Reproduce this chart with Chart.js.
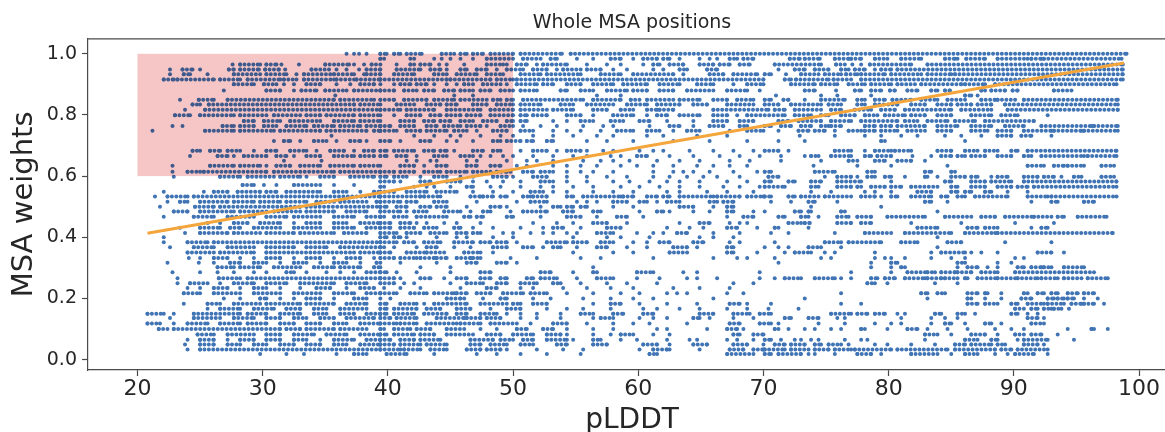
<!DOCTYPE html>
<html>
<head>
<meta charset="utf-8">
<script src="https://cdn.jsdelivr.net/npm/chart.js@4.4.1/dist/chart.umd.min.js"></script>
<style>
  html, body { margin: 0; padding: 0; background: #fff; overflow: hidden; width: 1165px; height: 432px; }
  #c { display: block; width: 1165px; height: 432px; }
</style>
</head>
<body>
<canvas id="c" width="1165" height="432"></canvas>
<script>
// Axis ticks and limits
const xTicks = [20, 30, 40, 50, 60, 70, 80, 90, 100];
const yTicks = [0.0, 0.2, 0.4, 0.6, 0.8, 1.0];
const xLimits = [16.05, 102.95];   // full axis span (right part runs past the page edge)
const yLimits = [-0.034, 1.049];

// Highlighted region (pLDDT 20-50, weight 0.6-1.0)
const boxX = [20, 50];
const boxY = [0.6, 1.0];

// Linear fit end points
const fitX = [20.8, 98.8];
const fitY = [0.413, 0.970];

// Positions per weight level: a number is a single position,
// a pair [from, to] is a dense run of positions at that weight.
const r1000 = [36.7, 37.3, 37.7, 38.3, [39.4,39.9], [40.5,41.0], [41.5,42.7], [44.3,45.3], [45.8,46.3], [46.8,47.6], [48.2,50.0], [50.6,53.9], [54.6,99.0]];
const r0984 = [[39.4,39.7], 41.8, 42.1, 43.7, 44.3, 45.0, 45.8, 46.8, [47.9,50.0], [50.8,52.2], [53.0,53.5], 55.1, 56.4, [57.8,58.6], 59.6, [60.4,61.5], [62.0,62.5], 63.3, 64.9, 65.7, 66.3, [67.3,67.9], [68.4,69.2], [72.1,72.9], [73.3,74.5], [75.7,76.8], [77.0,77.8], [78.9,79.9], [81.0,82.6], [84.5,85.3], 85.5, [86.2,87.7], [88.7,91.1], [91.4,92.2], [92.4,98.6]];
const r0965 = [27.6, [28.2,29.8], [30.3,31.1], 31.5, 32.9, [35.0,36.9], 37.3, 38.1, [38.7,39.4], 40.7, [41.8,42.1], [42.6,43.4], 44.1, 44.7, 46.1, [47.9,49.2], 49.5, [50.3,51.1], 51.9, [52.4,54.3], 55.9, 57.5, 58.6, 60.4, [61.2,61.7], [62.5,63.6], [64.9,66.0], [66.5,67.3], [68.1,68.9], [70.9,74.6], [75.8,76.5], 77.1, 77.8, [78.5,81.8], [83.1,98.7]];
const r0949 = [22.6, [23.6,24.4], 25.0, [27.3,27.7], [28.2,29.7], [30.2,31.3], 31.8, [33.9,35.3], 35.9, 36.7, 37.7, [38.3,39.4], [40.7,42.6], [43.4,44.2], 44.7, [45.8,46.3], [47.1,47.9], 48.7, [49.5,50.8], [51.6,52.7], 53.5, [54.0,55.4], [55.9,57.0], 58.0, 59.1, 61.2, 62.0, [63.3,63.9], [65.5,66.3], 71.2, [72.5,73.3], [74.1,75.2], [76.2,76.8], [77.3,78.1], 78.9, [79.4,80.2], [80.7,98.7]];
const r0933 = [22.6, [23.7,24.2], 25.6, [27.7,29.8], [30.3,31.9], 32.7, [33.3,35.4], [35.7,37.3], 38.1, [38.3,39.4], [40.5,42.1], [43.7,44.7], [45.5,47.1], [47.9,49.2], [50.6,52.2], [52.7,55.4], [57.0,58.6], [59.6,62.8], 63.6, [65.7,66.8], [67.6,69.5], [70.1,70.6], 71.8, [73.0,74.4], [74.9,76.2], [76.6,77.5], [77.8,79.7], [80.2,82.6], [83.1,85.0], [85.3,98.7]];
const r0916 = [[22.1,22.9], [23.2,26.1], [26.6,28.2], [28.8,31.4], [31.7,32.7], [33.3,35.7], [35.9,37.3], [37.5,39.4], [39.4,44.7], [45.0,48.2], [48.7,50.0], [50.3,70.0], [71.7,72.2], [72.6,75.2], [75.6,77.0], [77.8,98.7]];
const r0900 = [[27.7,29.3], [30.1,31.1], 31.7, 32.5, [33.5,34.6], 35.9, 37.0, [37.8,38.9], 39.4, 40.5, [41.0,41.8], [42.3,43.1], 43.7, 44.7, 45.5, [46.1,46.8], [47.6,49.0], 49.5, [50.3,51.9], [52.4,53.2], [54.3,55.4], [56.4,58.0], [58.8,60.7], [61.7,63.3], [64.7,66.0], 67.6, [68.7,70.0], [72.2,74.1], [74.6,75.9], [76.8,78.1], [78.6,80.2], [80.7,82.1], [82.6,85.8], [86.1,87.7], [88.5,98.2]];
const r0880 = [26.9, [30.3,31.4], 32.5, [33.1,34.3], [35.0,36.7], [37.3,39.4], [39.4,40.5], [41.3,42.3], [42.9,43.7], [44.5,45.3], [45.8,46.8], [47.4,48.2], [49.0,50.0], [50.6,51.9], [53.8,54.3], [55.4,56.4], [57.5,59.1], [59.6,60.7], [61.7,62.8], [63.9,66.0], [67.1,68.7], 69.7, [73.3,74.1], 75.8, [77.3,77.8], [78.6,79.4], [80.1,80.5], [81.5,82.3], [83.4,83.9], [84.5,84.9], [87.4,87.7], [88.2,89.3], [89.9,90.3], [93.2,94.6]];
const r0864 = [35.8, 45.3, 46.8, 56.7, 58.6, 71.0, 74.6, 75.9, 78.6, [86.1,86.6], 87.1];
const r0850 = [23.4, [24.9,26.1], [27.2,35.7], [36.2,38.9], [39.4,40.5], [41.3,43.1], [43.7,45.3], [45.8,47.9], [48.4,49.0], [49.5,50.0], [50.8,55.6], [56.4,58.6], [59.4,60.1], [60.7,62.8], [63.3,64.9], [66.0,67.1], [67.9,69.2], [70.1,70.6], [71.6,72.0], 73.3, [74.6,76.5], [77.5,78.1], [78.9,79.7], [80.3,81.8], [82.6,83.9], [84.7,86.1], [87.4,88.5], [88.7,90.1], [90.8,98.3]];
const r0834 = [[24.4,25.0], [25.7,37.3], [37.8,39.4], [40.7,42.1], [43.1,44.2], [44.7,45.5], [46.8,47.9], [48.7,50.0], [50.6,52.2], [53.8,54.8], [55.9,58.0], [59.1,60.7], [61.5,63.3], [64.4,65.5], [67.1,69.2], [70.1,71.2], [72.2,74.6], [75.2,76.2], [77.5,78.1], [78.9,80.7], [81.8,82.9], [83.9,85.0], [85.5,86.6], [87.1,88.2], [89.3,98.3]];
const r0817 = [23.8, [25.4,39.4], [39.4,41.0], [41.5,43.7], [44.7,47.4], [48.2,50.0], [50.6,52.7], [53.2,54.8], [56.4,57.5], [58.6,59.6], [60.7,61.5], [61.7,62.8], [66.0,70.4], [70.9,71.7], [72.5,74.6], [75.4,76.2], [77.3,78.6], [79.4,80.5], [81.3,85.0], [85.8,88.2], [89.5,98.3]];
const r0799 = [[23.0,24.2], [25.0,27.7], [28.2,30.3], [30.9,33.0], [33.5,34.6], [35.1,37.3], [37.8,39.4], 40.5, [41.5,42.6], [43.4,44.2], [44.7,45.8], [46.3,47.4], [48.2,50.0], [50.6,51.1], [51.6,52.7], [54.3,55.4], 56.4, [58.0,59.6], 60.7, [61.5,62.3], [63.3,64.9], [66.0,67.1], 67.9, [68.7,71.7], [72.5,73.8], [74.6,75.2], [76.2,77.3], [78.1,79.1], [79.7,81.3], [81.8,82.9], [83.9,85.0], [86.6,88.2], [89.0,90.3], 92.7];
const r0780 = [[28.5,29.3], [30.1,31.4], [32.2,34.6], [35.7,37.3], [37.8,39.4], [41.0,42.1], [42.9,43.7], [44.2,45.0], [45.8,46.8], [47.6,48.7], [49.5,50.0], [50.6,51.1], 53.2, 54.3, [55.4,56.4], [57.8,58.8], [60.1,60.9], 62.3, 64.4, [66.0,67.1], [68.1,69.2], [71.2,72.0], [72.8,74.6], [75.4,77.0], [77.8,80.7], [81.3,82.3], [83.1,84.7], [85.3,86.9], [87.7,91.6]];
const r0764 = [22.8, 23.6, [26.8,27.7], [28.2,29.3], [30.1,31.1], [31.9,33.5], [34.1,35.7], [36.2,37.8], [38.3,39.4], [39.4,40.2], [41.0,42.1], [43.1,43.9], [44.5,45.8], [46.3,47.4], 47.9, [49.0,50.0], 50.8, 52.2, 53.5, 55.6, 57.2, 58.0, 60.9, [62.5,63.3], 64.4, [65.7,66.8], [68.1,68.7], [70.1,70.6], [71.4,72.2], [73.0,73.8], [74.6,75.2], [75.4,76.2], [78.1,78.9], [79.4,80.2], [80.7,82.9], [83.9,85.5], [86.6,88.2], [89.3,90.8], [92.2,96.2], [96.4,98.3]];
const r0748 = [21.2, [25.4,27.7], [28.2,30.9], [31.4,34.6], [35.1,38.3], [38.9,39.4], [39.4,40.7], [41.5,42.6], [43.1,44.7], [45.3,46.3], 47.1, [48.4,49.5], [50.6,51.6], 53.2, 54.3, 55.4, 57.0, [58.3,59.6], [60.7,61.7], 62.8, [63.9,64.9], 67.3, [68.7,70.0], 71.2, [72.8,73.6], [74.1,74.9], 75.7, [76.8,77.8], [78.1,78.9], [79.4,80.7], [81.5,82.9], [83.9,85.0], [86.6,87.9], [88.7,89.8], [90.8,93.0], [93.2,95.4], [95.6,98.3]];
const r0732 = [35.5, 42.1, 43.7, 45.0, 45.8, 47.4, 49.0, 50.0, 51.6, 53.2, 54.8, 56.7, 58.0, 60.7, 62.0, 64.7, 67.1, 72.9, 75.7, 78.1, 79.4, 81.0, 82.3, 84.5, 85.8, 87.4, [88.7,89.8], [90.6,91.4], 93.0];
const r0715 = [30.9, [31.7,32.2], 33.0, [34.1,35.1], 35.9, [37.0,37.8], 38.3, [39.4,40.2], 41.0, [42.6,43.4], 44.7, 45.5, 46.8, [48.4,49.0], [49.5,50.6], [51.1,51.6], [52.7,53.2], 55.9, 57.5, 59.6, 62.8, 65.7, 68.7, 71.2, 73.3, [79.4,79.7], 86.1];
const r0683 = [[24.4,25.0], [25.8,26.6], [27.2,28.2], 29.3, [30.3,31.1], [32.2,33.5], 34.3, [35.4,36.5], 37.3, [38.1,38.9], [39.4,39.9], [40.5,42.1], [42.9,43.7], [44.2,44.7], 45.3, [46.8,47.6], [48.4,49.0], 50.6, [51.6,52.7], 53.5, [54.3,55.4], 55.9, 57.2, 58.0, 60.1, 61.2, 62.0, 64.1, 66.0, 67.6, 69.2, [70.1,71.2], 72.0, [75.7,77.0], 78.1, [78.9,80.2], [80.5,81.8], [83.9,85.0], [86.1,87.1], [87.7,88.7], [89.8,90.3], [91.1,98.2]];
const r0666 = [24.2, [26.4,27.2], 27.7, [28.5,30.3], [31.1,31.9], 32.5, [33.5,34.6], [35.7,37.3], [37.8,38.9], [39.4,39.9], [40.7,41.5], 42.3, [43.7,44.7], [45.8,46.8], 47.4, 48.2, 49.2, 50.0, 51.6, 53.2, 54.8, 55.9, 57.8, 58.6, [59.9,60.7], 62.5, 64.4, 66.5, 68.1, 69.7, 71.4, 73.3, [73.8,74.4], [75.4,77.0], [78.1,78.6], [79.1,80.2], 81.9, 83.4, [84.2,85.0], [85.5,86.1], [86.6,87.7], [88.7,89.8], [90.8,91.4], [92.2,95.6], [95.9,98.2]];
const r0650 = [31.7, 34.7, 41.5, 42.3, 43.4, 43.9, 46.3, 47.1, 49.5, 51.1, 51.9, 53.2, 55.6, 57.0, 58.0, 59.3, 61.5, 63.3, 64.9, 67.3, 68.9, 71.4, 74.6, [76.8,77.5], [78.9,79.7], [80.7,81.8], 82.9];
const r0634 = [22.8, [25.8,27.7], [28.2,29.8], 30.3, [31.1,32.2], [33.0,34.6], [35.4,37.3], [37.8,39.4], [41.0,42.1], 42.9, [43.9,44.7], [46.3,47.1], [48.2,49.0], 50.3, 51.1, 53.2, 54.3, 55.4, 56.7, 58.6, 59.9, 61.2, 62.8, 64.7, 66.0, 67.3, 68.7, 74.0, 77.5, 80.2, 84.7, [91.1,92.4], [93.2,94.0], [94.3,95.6], [97.0,98.0]];
const r0614 = [22.8, [24.0,25.0], [25.3,30.3], [30.9,35.7], [36.2,39.4], [39.4,40.5], [41.0,42.1], [42.9,44.2], [44.7,46.3], [46.8,48.2], [48.7,49.5], 49.8, [50.8,51.6], [52.2,53.2], 54.3, 55.4, 56.4, 58.0, 61.2, 62.8, 63.6, 64.4, 65.7, 67.6, 69.5, [70.1,70.6], [74.1,75.7], [78.3,78.9], [82.9,83.4], [85.0,85.3]];
const r0598 = [22.9, [26.6,28.2], [28.8,30.9], [31.4,33.0], 33.5, [34.6,35.7], [37.0,38.9], [39.4,39.9], [40.5,41.5], 42.6, [43.7,44.7], 45.8, 46.8, [48.4,49.5], 50.0, [51.6,52.7], 54.3, 55.9, 57.5, 59.1, 61.2, 62.5, 63.9, 65.2, 66.3, 68.1, [70.4,71.2], 74.9, [75.9,77.0], 77.5, [78.3,78.9], [79.7,80.2], 81.3, [82.9,83.1], 83.9, [85.0,86.1], [86.6,87.1], 88.2, [88.7,89.5], [90.8,91.9], [92.4,93.2], 93.8, [94.8,95.4], [97.0,98.0]];
const r0582 = [[39.4,40.5], 41.0, [42.6,43.4], [44.7,45.8], 46.8, 47.9, 49.2, 50.6, [52.2,53.2], 54.3, 55.9, 58.0, 59.3, 60.9, 62.3, 63.3, 64.9, 67.1, 68.7, [70.1,70.6], [72.0,72.5], [73.8,74.6], [75.9,77.8], 80.2, [84.5,85.0], [86.6,87.7], [88.2,89.8], [90.8,98.2]];
const r0571 = [[28.4,29.3], 30.1, 31.1, [32.5,34.6], 35.7, 37.3];
const r0565 = [[39.4,39.7], 42.1, 43.1, 43.7, 45.0, [46.3,46.8], 48.2, 49.0, 50.6, 52.2, 53.2, 54.8, 56.4, 58.6, 60.1, 61.7, 63.3, 64.9, 66.8, 68.1, 69.7, [70.1,71.7], [73.8,74.4], [75.9,77.0], [77.5,77.8], [78.6,79.7], [80.2,81.0], [81.8,83.9], [85.0,85.5], [86.6,87.7], [88.7,89.8], [90.3,91.1], [91.6,98.2]];
const r0549 = [22.1, 25.3, [26.1,27.2], [28.0,29.8], [30.3,31.1], [31.9,34.6], [35.7,36.7], 37.8, [38.9,39.4], [39.4,40.5], [41.5,43.1], [43.9,45.5], 46.8, 48.4, 50.0, [51.4,52.4], 53.2, 54.3, 56.4, 58.0, 59.6, 62.3, 63.3, 65.5, 67.1, 69.2, 73.8, 75.4, 78.1, 78.9, 80.2, [82.3,83.4], [85.0,85.5], [86.1,86.6], [87.7,88.2], 89.5, 91.1];
const r0533 = [21.4, [22.4,24.0], [24.5,39.4], [39.4,42.6], [42.9,44.2], [46.6,47.4], [47.6,48.4], [49.0,49.5], [50.8,51.4], [51.6,52.7], [54.3,54.8], [55.6,58.6], [58.8,59.6], [60.7,61.5], [62.0,62.5], [63.3,66.0], [66.3,68.1], [68.7,70.0], [70.1,70.6], [72.0,72.5], [73.0,74.4], [74.9,77.0], [77.8,78.9], 79.4, [80.2,80.7], [81.8,83.4], [84.2,84.7], [85.5,86.1], [86.9,89.5], [91.1,92.7], [93.0,98.2]];
const r0516 = [22.4, [23.4,24.0], [25.0,27.2], [27.7,29.3], [29.8,31.4], [31.9,33.5], [34.3,35.7], [36.2,38.3], [39.1,39.4], [39.4,41.0], [41.5,42.3], [43.7,44.7], 47.1, 50.3, [51.4,52.7], 55.1, 55.9, 56.7, [58.0,59.1], [60.1,60.7], 61.5, [62.3,63.3], [65.7,66.3], [66.8,67.6], 70.6, 72.2, [73.6,74.1], 75.9, [82.9,83.4], 84.7, 91.4, [93.0,93.5], [95.6,96.4]];
const r0500 = [21.8, [24.6,26.1], [26.6,33.0], [33.5,39.4], [39.4,39.9], [40.7,41.5], [42.6,43.4], [43.9,44.7], 46.3, [48.2,49.0], 49.5, 52.2, [53.2,53.8], [54.3,54.8], [55.4,55.9], 58.0, 59.6, [63.3,64.4], 66.0, [67.1,67.6], 73.8, 79.4];
const r0484 = [[22.9,24.0], [25.0,27.7], [28.2,30.3], [30.9,33.0], [33.5,35.7], [36.7,38.3], 39.4, [39.4,41.0], 41.5, [42.1,43.1], [44.5,45.8], 46.6, [47.6,48.2], 49.8, [50.8,52.7], [54.0,54.8], [56.4,57.0], 60.1, [61.5,62.0], 62.5, 64.4, 65.7, [67.1,67.6], 69.2, 70.1, [72.5,73.0], [73.6,73.8], [76.2,76.5], 83.9];
const r0467 = [22.1, [24.5,26.1], [27.2,29.3], [30.3,31.9], [32.5,34.6], [35.7,37.3], [38.3,39.4], [39.4,39.7], [40.5,41.5], [42.3,44.7], [46.1,46.6], [47.1,47.6], [49.5,50.0], 52.2, [54.3,55.4], 56.7, [58.3,59.1], 60.4, 67.1, [68.4,69.2], [71.2,71.7], [73.0,73.6], 74.4, [75.9,76.8], [77.5,78.6], [79.9,82.9], [84.5,86.6], [87.4,88.5], [89.3,91.4], [91.6,93.0], [93.5,94.0], [95.1,97.4]];
const r0447 = [25.6, 26.6, [27.7,28.8], [29.8,31.4], 32.5, [33.5,34.6], [35.7,36.7], [37.8,39.4], [39.4,40.2], [41.0,41.8], 42.3, 43.1, 44.5, 45.5, 47.4, 51.6, 53.5, 54.8, [56.4,57.5], 59.1, 63.3, [64.9,65.7], 67.3, 68.1, 68.7, [72.0,73.0], [73.3,73.7], [75.9,77.0], [77.8,78.6], 81.8, 85.8, 90.1, 93.2];
const r0431 = [23.4, [25.0,26.6], [27.4,28.2], [29.3,31.4], [32.5,34.6], [35.7,37.3], [38.3,39.4], [39.4,40.2], [41.0,42.1], [42.9,43.9], [45.3,45.8], 46.8, 48.4, 50.6, 52.4, [53.2,54.0], 55.4, [57.5,58.6], 62.3, 64.1, 65.2, [67.1,67.9], 69.5, [70.9,71.2], 73.6, [82.3,83.9], [86.3,87.1], [87.7,88.7], 91.4, [92.2,92.7]];
const r0414 = [23.8, [25.0,27.2], [27.7,29.8], [30.3,32.5], [33.0,35.7], [36.5,38.3], [39.4,40.7], [41.5,42.6], [43.4,44.7], [45.5,46.3], [46.8,47.4], 49.2, 50.0, 51.4, 52.4, 53.2, 54.3, 55.1, [56.7,58.0], 59.9, 61.2, 62.0, [63.1,63.9], 66.0, 68.1, 70.6, 72.0, 75.7, [78.1,80.2], [81.3,85.0], [86.1,88.5], [88.7,97.9]];
const r0400 = [22.1, [39.4,39.9], [40.5,41.0], 41.5, 43.9, 45.5, 46.3, 48.4, 50.0, 54.8, 57.5, 58.6, 60.9, 64.9, 66.0, 67.6, 83.9];
const r0384 = [22.1, [24.0,25.6], [26.1,39.4], [39.4,40.7], [41.3,42.1], [42.9,44.2], [45.3,46.8], [47.4,48.2], [48.7,49.5], 50.3, [52.7,54.3], [54.8,55.9], [57.0,58.0], 59.6, 60.7, [61.7,62.5], [64.4,65.2], 67.3, 68.1, 70.9, [74.9,76.2], [76.8,79.4], [81.0,82.3], [84.7,85.8], 89.3, 93.0];
const r0367 = [22.6, [24.5,26.1], [27.2,29.3], [30.3,32.5], [33.5,35.1], [36.2,39.4], [39.4,39.7], 40.5, 42.3, [43.1,43.9], 45.3, 46.6, [48.4,49.5], [50.8,51.6], 52.4, [53.2,53.8], 55.1, [56.7,57.5], 59.1, 60.7, [62.8,63.9], 64.7, [67.1,67.6], 70.1, 71.2, 72.0, [73.6,74.6], 76.2, 83.9];
const r0350 = [[24.0,26.1], [26.6,29.3], [30.3,37.3], [37.8,39.4], [39.4,40.2], [41.5,42.9], [43.1,44.5], [46.1,47.4], 48.4, 54.8, 58.0, 59.6, [62.5,63.9], [67.1,67.6], 69.5, 71.7, [72.5,73.8], 74.9, 75.7, 78.9, 83.4, [84.2,86.1], 86.6, 87.4, 88.7, [91.9,93.0], 94.0];
const r0332 = [24.1, 25.0, [26.1,27.2], 28.2, 29.3, [30.3,31.4], 32.5, [33.5,34.6], 35.7, [36.7,37.8], 38.9, [39.4,40.5], [41.0,42.3], [42.6,43.7], [43.9,44.7], [45.5,46.6], [46.8,47.4], 49.8, 51.9, 55.4, 57.0, 61.2, 66.0, 67.9, 68.7, 70.9, 74.6, 75.4, 78.9, 79.7, 80.2, 81.3, 83.4, 85.0, 86.1, 90.1, 90.8];
const r0317 = [22.4, 24.9, 26.1, [27.4,28.2], [29.3,30.3], 31.4, [32.5,33.5], 34.6, [35.7,36.7], 37.8, [39.1,39.4], 41.0, 43.9, [46.3,47.1], [48.7,49.5], 50.3, 71.2, 78.6, [80.2,80.7], [85.5,86.1], 88.7, 89.8];
const r0302 = [[26.4,27.7], [28.2,29.8], [30.9,33.0], [34.1,35.7], [36.2,37.8], [38.9,39.4], 42.6, 45.0, 56.4, 78.6, 80.2, [81.0,81.3], 85.5, [86.3,87.1], 87.9, 88.7, [90.3,90.8], [91.4,92.2], [92.4,93.0], [94.0,95.6]];
const r0286 = [22.8, 25.0, 26.4, 27.7, 29.3, 30.3, [31.9,32.5], 33.5, 35.1, 36.2, 37.3, [38.3,39.4], [39.4,39.9], 40.7, 42.3, 45.0, [47.4,48.2], [52.2,53.0], 54.8, [56.4,56.7], [59.9,61.2], 63.6, 64.7, 69.7, 77.0, 80.2, [81.5,82.9], [83.1,83.7], [84.2,85.3], [85.5,86.6], [87.4,88.7], [90.1,96.4]];
const r0266 = [23.2, [26.5,28.2], [28.8,39.4], [39.4,40.5], 41.0, [42.6,43.4], 44.5, [45.5,46.3], [47.4,48.2], [49.0,49.5], [51.1,51.6], [52.2,53.5], 55.1, [56.7,58.0], 59.9, 61.7, 63.9, 64.7, 66.3, 69.7, 70.9, [71.7,73.0], [74.1,75.7], 76.2, 77.0, [78.6,79.1], [79.7,80.5], [81.3,82.9], [83.1,84.2], [84.5,85.5], [86.1,86.3], [87.1,88.5], [88.7,90.1], [90.3,91.9], [92.2,93.5], [94.0,95.4], [95.9,97.5]];
const r0250 = [23.2, [24.2,25.6], 26.6, [27.7,29.3], [30.3,31.9], [33.0,35.7], [36.7,38.3], [39.4,40.5], 41.3, 42.1, 45.0, [46.3,47.6], [48.7,49.5], [50.6,51.9], [53.2,53.8], 55.4, 57.5, 59.1, 61.5, 67.6, 69.2, [78.3,78.9], 79.9, 83.7, 85.5];
const r0234 = [24.0, 25.0, [26.1,27.2], 28.2, [29.3,30.3], 31.4, 33.0, [34.3,35.4], 36.7, [37.8,38.9], 39.7, 41.0, 42.6, 45.8, [47.9,48.7], 50.6, 51.6, 54.0, 55.9, 57.8, 59.6, 62.8, 64.9, 67.3];
const r0217 = [[23.7,25.0], [26.1,28.2], [29.3,31.4], [32.5,34.6], [35.7,37.3], [38.3,39.4], [39.4,40.7], [41.8,43.1], [43.7,45.3], [45.5,46.3], [47.1,48.2], [49.2,50.8], [51.4,52.7], 54.3, 56.4, 58.6, 60.1, 62.3, 63.1, 63.9, 67.1, 68.4, 76.2, [82.6,83.1], [83.9,84.5], [86.3,87.1], [87.7,87.9], 89.0, [90.8,91.1], [91.9,92.4], [93.0,93.5], [94.3,95.1], [95.6,96.4]];
const r0200 = [26.9, 28.2, [29.8,30.3], 31.4, 32.5, [33.5,34.6], 35.7, [37.3,38.3], 39.4, 40.2, [44.7,45.8], 46.1, 47.6, [49.0,49.5], 51.6, 53.0, 55.6, 57.8, 59.6, 61.2, 66.0, 73.3, 83.1, [86.3,86.6], 87.7, 89.0, [90.6,91.4], [92.7,93.2], [93.5,94.0], [94.3,94.8], 95.6, 96.7];
const r0183 = [23.7, [25.6,26.6], [27.7,29.8], [30.3,33.0], [33.5,35.7], [36.7,38.3], [39.4,39.9], [41.0,42.3], 42.9, [43.7,46.3], [47.4,49.5], [50.0,50.6], [51.6,52.7], 56.4, [57.8,58.6], 60.1, 62.3, 64.7, [67.3,68.1], 68.7, 70.6, 76.2, 77.8, [86.3,87.1], [87.7,88.7], [89.8,90.3], [91.1,92.4], [92.7,94.0], [94.6,95.4], [95.6,96.4], 97.2];
const r0166 = [25.6, [26.6,28.2], [29.3,30.9], [31.9,33.0], [34.1,35.1], [36.2,38.3], [39.4,39.9], [40.5,42.3], [43.1,44.2], [45.5,46.6], 48.2, [49.5,50.6], 52.7, 54.3, 55.6, 57.8, 60.4, 61.5, 63.3, 64.9, 67.1, 68.7, 70.4, 72.8, [90.1,90.8], [91.4,91.9], [92.4,93.0], [93.2,93.8], 94.4];
const r0150 = [[20.8,22.1], 22.9, [24.5,28.2], [28.8,30.3], [31.4,33.0], [34.1,35.1], [36.2,37.3], [38.3,39.4], [39.4,39.9], [40.5,42.1], [42.9,44.7], [45.5,46.3], [47.4,48.7], 49.5, 50.6, 51.9, 53.8, [55.4,56.4], [58.0,58.8], [60.4,61.2], [64.9,66.0], [67.6,68.9], [69.7,70.6], [75.4,77.0], [77.5,78.3], [78.9,79.7], 80.7, 81.3, [83.7,84.2], [85.5,86.1], 86.9, [89.8,90.3], 91.1, 91.9];
const r0136 = [22.6, [24.5,26.6], [27.7,29.3], [30.3,31.4], [32.5,33.5], [34.6,35.7], [36.7,38.9], [39.4,40.2], [40.7,42.3], [43.9,46.1], [46.3,47.4], [47.9,49.0], 50.6, 51.9, 53.8, 56.4, [57.0,58.0], 60.1, 61.2, 62.3, [64.4,64.9], 65.7, 67.6, 69.2, [71.7,72.2], [73.6,74.4], 75.9, 76.5, 81.0, 83.4, 84.5, 85.5, [91.1,91.9], 92.4];
const r0118 = [[20.8,21.8], 22.9, [24.0,25.6], [26.6,28.2], [28.8,30.3], [31.4,32.5], [33.5,34.6], [35.7,36.7], [37.8,39.4], [39.4,40.7], [41.0,42.3], [43.1,45.5], [45.8,47.4], [48.2,50.3], 51.4, [53.2,54.3], 55.9, 58.0, 59.6, 60.9, 63.9, [67.3,68.1], [69.7,70.6], 71.2, 74.4, 76.5, 78.9, 80.2, 81.0, 83.4, [84.5,85.0], 86.1, [87.7,88.2], 89.0, [91.4,92.4]];
const r0100 = [[21.7,22.4], [22.9,31.4], [31.9,33.0], [33.5,35.7], [36.2,38.3], [39.4,39.7], [40.5,41.8], [42.3,43.4], [44.7,46.1], 47.4, 48.7, [50.3,51.1], [52.4,53.2], 54.3, 56.4, 58.0, 61.5, 62.3, 65.5, [67.1,67.9], 68.4, [70.9,71.2], 72.0, 73.3, 74.1, 75.4, 76.2, [77.8,78.1], 79.9, [81.5,82.3], 83.1, 84.7, 86.3, 88.5, 89.8, 90.8, 94.3, [96.2,96.4], 97.5];
const r0082 = [[24.8,26.1], [27.2,29.3], [30.3,31.4], [32.5,34.1], [35.1,36.7], [37.8,39.4], [39.4,39.9], [40.5,42.1], [42.6,43.7], [44.7,46.8], [47.9,49.0], [50.0,51.6], [52.7,53.8], 54.3, 56.4, 57.8, [58.6,59.6], 61.2, 62.5, [67.6,68.1], [69.2,70.0], [82.9,83.9], 85.0, [86.6,87.7], 88.7, [90.1,90.8], [91.4,92.2], 93.5];
const r0065 = [24.0, [25.0,26.1], 27.2, [28.2,29.3], [30.3,31.4], [32.5,33.5], 34.6, [35.7,37.3], [38.3,39.4], [39.4,40.2], [41.0,42.1], [42.6,44.2], [46.6,48.4], [49.0,50.0], [50.8,51.6], [52.7,54.3], 54.8, [56.4,57.0], 58.6, 59.9, 62.3, 64.1, 64.7, 67.1, 67.9, 69.2, [70.1,70.6], 71.4, 72.5, 73.0, 73.8, 74.4, 76.5, 77.8, 78.3, 82.9, [86.1,87.1], [88.2,88.7], 90.3, [90.8,92.7], 94.8];
const r0049 = [23.8, [25.0,26.1], [27.2,28.2], [29.3,30.3], [31.4,32.5], [33.5,34.6], [35.7,36.7], [37.8,39.4], [39.4,40.5], [41.0,42.6], [43.1,44.7], [46.6,47.4], [48.2,49.5], [50.6,51.6], [53.5,54.3], [56.4,57.5], [60.4,61.5], 62.5, [64.4,65.5], [67.6,68.7], 70.0, [70.9,71.7], [72.2,73.3], [74.1,74.6], [75.2,76.2], 76.8, 78.9, 79.9, 81.8, 83.7, [85.3,86.1], [86.6,88.2], [88.7,89.3], [90.8,91.9], 92.4];
const r0033 = [24.0, [25.0,39.4], [39.4,41.0], [41.3,42.6], [43.4,44.7], [46.3,47.4], [47.9,49.0], 49.5, 51.9, 54.0, 55.6, 60.1, [61.2,62.3], 62.5, 64.9, [67.3,68.4], [69.2,70.0], [70.1,71.7], [72.2,73.6], [74.1,75.2], [75.7,77.0], [77.3,80.2], [80.7,84.7], [85.3,88.5], [89.0,89.8], [90.3,92.7]];
const r0018 = [29.8, 31.9, 33.3, 35.9, [37.3,38.3], [39.9,41.5], 43.7, 47.1, 48.7, 50.6, 52.7, 55.4, [60.9,61.5], [67.1,69.2], [70.1,70.6], [71.2,73.0], 73.6, 74.1, 75.7, [77.5,78.6], 79.4, [81.8,83.9], 85.0, [86.1,87.1], 88.5, 89.5, [90.1,91.6], 92.7];

const rowLevels = [1.000, 0.984, 0.965, 0.949, 0.933, 0.916, 0.900, 0.880, 0.864, 0.850,
  0.834, 0.817, 0.799, 0.780, 0.764, 0.748, 0.732, 0.715, 0.683, 0.666,
  0.650, 0.634, 0.614, 0.598, 0.582, 0.571, 0.565, 0.549, 0.533, 0.516,
  0.500, 0.484, 0.467, 0.447, 0.431, 0.414, 0.400, 0.384, 0.367, 0.350,
  0.332, 0.317, 0.302, 0.286, 0.266, 0.250, 0.234, 0.217, 0.200, 0.183,
  0.166, 0.150, 0.136, 0.118, 0.100, 0.082, 0.065, 0.049, 0.033, 0.018];
const rowItems = [r1000, r0984, r0965, r0949, r0933, r0916, r0900, r0880, r0864, r0850,
  r0834, r0817, r0799, r0780, r0764, r0748, r0732, r0715, r0683, r0666,
  r0650, r0634, r0614, r0598, r0582, r0571, r0565, r0549, r0533, r0516,
  r0500, r0484, r0467, r0447, r0431, r0414, r0400, r0384, r0367, r0350,
  r0332, r0317, r0302, r0286, r0266, r0250, r0234, r0217, r0200, r0183,
  r0166, r0150, r0136, r0118, r0100, r0082, r0065, r0049, r0033, r0018];

// Single positions become points; dense runs become dotted segments
// (separated by null entries so each run is its own stroke).
const dotPoints = [];
const runPoints = [];
rowLevels.forEach((w, i) => {
  rowItems[i].forEach(item => {
    if (Array.isArray(item)) {
      runPoints.push({x: item[0], y: w}, {x: item[1], y: w}, {x: item[1], y: null});
      dotPoints.push({x: item[0], y: w}, {x: item[1], y: w});
    } else {
      dotPoints.push({x: item, y: w});
    }
  });
});
const fitPoints = fitX.map((x, i) => ({x, y: fitY[i]}));

const BLUE = '#4174b4';
const FONT = 'DejaVu Sans';
const INK = '#262626';
const AXIS = '#4a4a4a';

// Page width ends before the axis maximum; the plot keeps the same
// pixel scale by stopping the visible axis at the page edge.
const CANVAS_W = 1165;
const PLOT_LEFT = 88;
const FULL_RIGHT = 1176;
const visibleMax = xLimits[0] + (xLimits[1] - xLimits[0]) * (CANVAS_W - PLOT_LEFT) / (FULL_RIGHT - PLOT_LEFT);

const framePlugin = {
  id: 'framePlugin',
  // shaded region, multiplied over the markers before the fit line is drawn
  afterDatasetDraw(chart, args) {
    if (args.index !== 1) return;
    const {ctx, chartArea: a, scales: {x, y}} = chart;
    const x0 = x.getPixelForValue(boxX[0]), x1 = x.getPixelForValue(boxX[1]);
    const y0 = y.getPixelForValue(boxY[1]), y1 = y.getPixelForValue(boxY[0]);
    ctx.save();
    ctx.beginPath();
    ctx.rect(a.left, a.top, a.right - a.left, a.bottom - a.top);
    ctx.clip();
    ctx.globalCompositeOperation = 'multiply';
    ctx.fillStyle = '#f6c6c6';
    ctx.fillRect(x0, y0, x1 - x0, y1 - y0);
    ctx.restore();
  },
  afterDraw(chart) {
    const {ctx, chartArea: a, scales: {x}} = chart;
    const cx = x.getPixelForValue((xLimits[0] + xLimits[1]) / 2);
    ctx.save();
    // top frame line
    ctx.strokeStyle = AXIS;
    ctx.lineWidth = 1.2;
    ctx.beginPath();
    ctx.moveTo(a.left, a.top);
    ctx.lineTo(CANVAS_W, a.top);
    ctx.stroke();
    // title and x-axis label, centred on the full axis span
    ctx.fillStyle = INK;
    ctx.textAlign = 'center';
    ctx.textBaseline = 'middle';
    ctx.font = '19px "DejaVu Sans"';
    ctx.fillText('Whole MSA positions', cx, 23.4);
    ctx.font = '28px "DejaVu Sans"';
    ctx.fillText('pLDDT', cx, 420.7);
    ctx.restore();
  }
};

Chart.defaults.font.family = FONT;
Chart.defaults.color = INK;

new Chart(document.getElementById('c'), {
  type: 'scatter',
  data: {
    datasets: [
      {
        label: 'fit',
        data: fitPoints,
        showLine: true,
        borderColor: '#f4a53b',
        borderWidth: 3,
        pointRadius: 0,
        fill: false
      },
      {
        label: 'positions',
        data: dotPoints,
        backgroundColor: BLUE,
        borderWidth: 0,
        pointRadius: 2.0,
        pointHoverRadius: 2.0
      },
      {
        label: 'dense runs',
        data: runPoints,
        showLine: true,
        spanGaps: false,
        borderColor: BLUE,
        borderWidth: 4.0,
        borderDash: [0, 4.4],
        borderCapStyle: 'round',
        pointRadius: 0,
        fill: false
      }
    ]
  },
  options: {
    responsive: false,
    animation: false,
    events: [],
    layout: { autoPadding: false, padding: { left: 0, right: 0, top: 38.8, bottom: 0 } },
    plugins: {
      legend: { display: false },
      tooltip: { enabled: false },
      title: { display: false }
    },
    scales: {
      x: {
        type: 'linear',
        min: xLimits[0],
        max: visibleMax,
        afterBuildTicks: s => { s.ticks = xTicks.map(v => ({ value: v })); },
        afterFit: s => { s.height = 62; },
        ticks: {
          font: { family: FONT, size: 22 },
          color: INK,
          padding: 0,
          maxRotation: 0,
          autoSkip: false,
          callback: v => String(v)
        },
        grid: { drawOnChartArea: false, drawTicks: true, tickLength: 6, tickColor: AXIS, tickWidth: 1.2 },
        border: { display: true, color: AXIS, width: 1.2 }
      },
      y: {
        type: 'linear',
        min: yLimits[0],
        max: yLimits[1],
        afterBuildTicks: s => { s.ticks = yTicks.map(v => ({ value: v })); },
        afterFit: s => { s.width = PLOT_LEFT; },
        ticks: {
          font: { family: FONT, size: 19 },
          color: INK,
          padding: 5,
          callback: v => Number(v).toFixed(1)
        },
        grid: { drawOnChartArea: false, drawTicks: true, tickLength: 6, tickColor: AXIS, tickWidth: 1.2 },
        border: { display: true, color: AXIS, width: 1.2 },
        title: {
          display: true,
          text: 'MSA weights',
          color: INK,
          font: { family: FONT, size: 29 },
          padding: { top: 7, bottom: 0 }
        }
      }
    }
  },
  plugins: [framePlugin]
});
</script>
</body>
</html>
